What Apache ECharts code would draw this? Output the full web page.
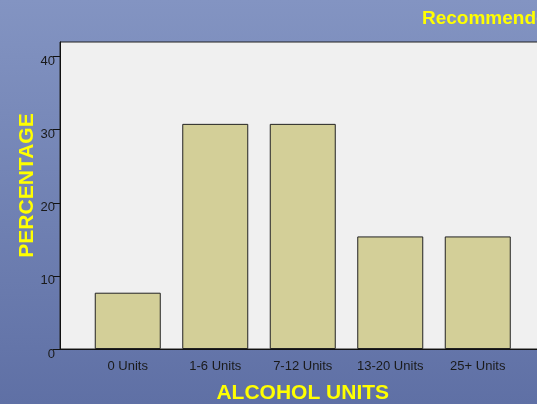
<!DOCTYPE html>
<html>
<head>
<meta charset="utf-8">
<script src="https://cdn.jsdelivr.net/npm/echarts@6/dist/echarts.min.js"></script>
<style>
  html, body { margin: 0; padding: 0; }
  #chart { width: 537px; height: 404px; }
</style>
</head>
<body>
<div id="chart"></div>
<script>
// data
const categories = ['0 Units', '1-6 Units', '7-12 Units', '13-20 Units', '25+ Units'];
const percentages = [7.7, 30.8, 30.8, 15.4, 15.4];
const yTicks = [0, 10, 20, 30, 40];

const chart = echarts.init(document.getElementById('chart'));

const option = {
  backgroundColor: {
    type: 'linear', x: 0, y: 0, x2: 0, y2: 1,
    colorStops: [
      { offset: 0, color: '#8394c2' },
      { offset: 1, color: '#5f70a5' },
    ],
  },
  textStyle: { fontFamily: 'Liberation Sans, Arial, sans-serif' },
  title: {
    text: 'Recommended',
    left: 417,
    top: 4,
    textStyle: { color: '#ffff00', fontSize: 19, fontWeight: 'bold' },
  },
  grid: [
    // frame + y axis (runs past the right edge, as in the crop)
    {
      left: 60, top: 42, width: 540, bottom: 55,
      outerBoundsMode: 'none',
      containLabel: false,
      show: true,
      backgroundColor: '#f0f0f0',
      borderColor: '#222',
      borderWidth: 1,
    },
    // bars
    { left: 84, top: 42, width: 437.5, bottom: 55,
      outerBoundsMode: 'none', containLabel: false },
  ],
  xAxis: [
    {
      gridIndex: 0,
      type: 'category',
      data: [''],
      axisLine: { lineStyle: { color: '#111', width: 1 } },
      axisTick: { show: false },
      axisLabel: { show: false },
    },
    {
      gridIndex: 1,
      type: 'category',
      data: categories,
      axisLine: { show: false },
      axisTick: { alignWithLabel: true, length: 5, lineStyle: { color: '#111' } },
      axisLabel: { color: '#1a1a1a', fontSize: 13, margin: 11 },
      name: 'ALCOHOL UNITS',
      nameLocation: 'middle',
      nameGap: 34,
      nameTextStyle: { color: '#ffff00', fontSize: 21, fontWeight: 'bold' },
    },
  ],
  yAxis: [
    {
      gridIndex: 0,
      type: 'value',
      min: 0, max: 42, interval: 10,
      axisLine: { show: true, lineStyle: { color: '#111' } },
      axisTick: { show: true, length: 7, lineStyle: { color: '#111' },
        customValues: yTicks },
      axisLabel: { color: '#1a1a1a', fontSize: 13, margin: 5,
        verticalAlign: 'top', lineHeight: 10, customValues: yTicks },
      splitLine: { show: false },
      name: 'PERCENTAGE',
      nameLocation: 'middle',
      nameGap: 22,
      nameMoveOverlap: false,
      nameTextStyle: { color: '#ffff00', fontSize: 21, fontWeight: 'bold',
        padding: [0, 0, 0, 20] },
    },
    {
      gridIndex: 1,
      type: 'value',
      min: 0, max: 42,
      show: false,
      splitLine: { show: false },
    },
  ],
  series: [
    {
      type: 'bar',
      xAxisIndex: 1,
      yAxisIndex: 1,
      data: percentages,
      barWidth: 66,
      itemStyle: { color: '#d3cf98', borderColor: '#222', borderWidth: 1 },
      silent: true,
    },
  ],
};

chart.setOption(option);
</script>
</body>
</html>
